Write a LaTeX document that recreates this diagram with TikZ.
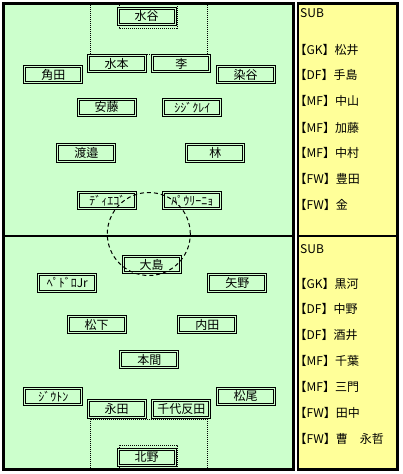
\documentclass[tikz,border=0pt]{standalone}
\usepackage{fontspec}
\setmainfont{Noto Sans CJK JP}
\definecolor{pitch}{HTML}{CCFFCC}
\definecolor{subbg}{HTML}{FFFF99}
\begin{document}
\begin{tikzpicture}[x=1pt,y=-1pt,
  player/.style={draw, double=pitch, double distance=1pt, line width=1pt,
    minimum width=57pt, minimum height=16.3pt, inner sep=0pt,
    font=\fontsize{12}{12}\selectfont},
  subtxt/.style={anchor=west, inner sep=0pt, font=\fontsize{12}{12}\selectfont},
  arealine/.style={line width=1pt, dash pattern=on 1pt off 1pt},
  circleline/.style={line width=1pt, dash pattern=on 4pt off 3pt}]
\useasboundingbox (0,0) rectangle (402,474);
\fill[white] (0,0) rectangle (402,474);
% pitch
\draw[line width=3pt, fill=pitch] (3.5,3.5) rectangle (293.5,469.5);
\draw[line width=2.5pt] (3.5,236) -- (293.5,236);
% penalty and goal areas
\draw[arealine] (90,5) -- (90,54) -- (207,54) -- (207,5);
\draw[arealine] (119,5) -- (119,28) -- (177,28) -- (177,5);
\draw[arealine] (90,468) -- (90,419) -- (207,419) -- (207,468);
\draw[arealine] (119,468) -- (119,445) -- (177,445) -- (177,468);
% substitutes panel
\draw[line width=2.5pt, fill=subbg] (298,3.5) rectangle (397.3,469.5);
\draw[line width=2.5pt] (298,236) -- (397.3,236);
% top team
\node[player] (p01) at (146.7,16.3) {水谷};
\node[player] (p02) at (116.7,63.7) {水本};
\node[player] (p03) at (181.3,63.7) {李};
\node[player] (p04) at (53.3,74.7) {角田};
\node[player] (p05) at (245.7,74.7) {染谷};
\node[player] (p06) at (106.7,107.2) {安藤};
\node[player] (p07) at (192.3,107.2) {ｼｼﾞｸﾚｲ};
\node[player] (p08) at (86.3,153) {渡邉};
\node[player] (p09) at (215.3,153) {林};
\node[player] (p10) at (107.3,200.5) {ﾃﾞｨｴｺﾞ};
\node[player] (p11) at (192.3,200.5) {ﾊﾟｳﾘｰﾆｮ};
% bottom team
\node[player] (q01) at (151.7,264.7) {大島};
\node[player] (q02) at (67.3,283) {ﾍﾟﾄﾞﾛJr};
\node[player] (q03) at (237.3,283) {矢野};
\node[player] (q04) at (96.7,324.7) {松下};
\node[player] (q05) at (207.3,324.7) {内田};
\node[player] (q06) at (149.3,359.7) {本間};
\node[player] (q07) at (53.3,396.3) {ｼﾞｳﾄﾝ};
\node[player] (q08) at (245.7,396.3) {松尾};
\node[player] (q09) at (116.7,409) {永田};
\node[player] (q10) at (181.3,409) {千代反田};
\node[player] (q11) at (146.7,457.2) {北野};
% centre circle
\coordinate (cc) at (148.8,234);
\draw[circleline] (cc) circle (41.5pt);
% substitutes text
\node[subtxt] (s00) at (300,13.3) {SUB};
\node[subtxt] (s01) at (294.5,50) {【GK】松井};
\node[subtxt] (s02) at (294.5,75) {【DF】手島};
\node[subtxt] (s03) at (294.5,101) {【MF】中山};
\node[subtxt] (s04) at (294.5,127.7) {【MF】加藤};
\node[subtxt] (s05) at (294.5,152.7) {【MF】中村};
\node[subtxt] (s06) at (294.5,179) {【FW】豊田};
\node[subtxt] (s07) at (294.5,205) {【FW】金};
\node[subtxt] (t00) at (300,249.3) {SUB};
\node[subtxt] (t01) at (294.5,283.7) {【GK】黒河};
\node[subtxt] (t02) at (294.5,308.7) {【DF】中野};
\node[subtxt] (t03) at (294.5,335.3) {【DF】酒井};
\node[subtxt] (t04) at (294.5,361.3) {【MF】千葉};
\node[subtxt] (t05) at (294.5,387) {【MF】三門};
\node[subtxt] (t06) at (294.5,412.7) {【FW】田中};
\node[subtxt] (t07) at (294.5,438.7) {【FW】曹　永哲};
\end{tikzpicture}
\end{document}
